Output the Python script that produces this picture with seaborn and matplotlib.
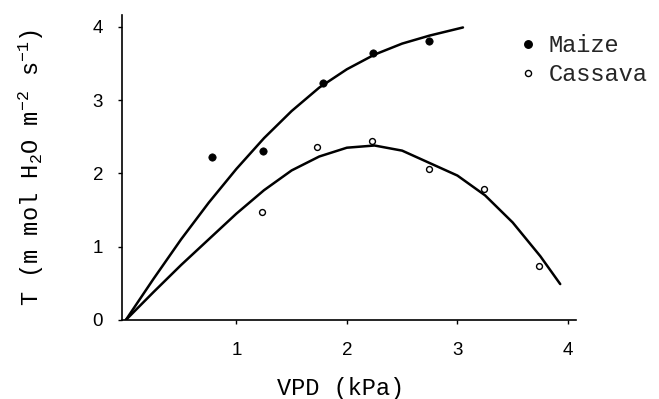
import matplotlib
matplotlib.use("Agg")
import matplotlib.pyplot as plt
import matplotlib.transforms as mtransforms
import seaborn as sns
import pandas as pd
from matplotlib.lines import Line2D

# ---- data ----
maize_vpd = [0.78, 1.24, 1.78, 2.24, 2.74]
maize_t = [2.22, 2.31, 3.23, 3.64, 3.81]
cassava_vpd = [1.23, 1.73, 2.23, 2.74, 3.24, 3.74]
cassava_t = [1.47, 2.36, 2.44, 2.06, 1.78, 0.73]

# fitted curves
maize_curve_x = [0, 0.25, 0.5, 0.75, 1.0, 1.25, 1.5, 1.75, 2.0, 2.25, 2.5, 2.75, 3.05]
maize_curve_y = [0, 0.56, 1.10, 1.60, 2.06, 2.48, 2.85, 3.17, 3.42, 3.62, 3.77, 3.88, 3.99]
cassava_curve_x = [0, 0.25, 0.5, 0.75, 1.0, 1.25, 1.5, 1.75, 2.0, 2.25, 2.5, 2.75, 3.0,
                   3.25, 3.5, 3.75, 3.93]
cassava_curve_y = [0, 0.38, 0.75, 1.10, 1.45, 1.77, 2.04, 2.23, 2.35, 2.38, 2.31, 2.14,
                   1.97, 1.70, 1.33, 0.87, 0.49]

x_ticks = [1, 2, 3, 4]
y_ticks = [0, 1, 2, 3, 4]
series_labels = ["Maize", "Cassava"]
x_label = "VPD (kPa)"
y_label = r"T (m mol H$_2$O m$^{-2}$ s$^{-1}$)"

sns.set_theme(style="ticks")
plt.rcParams["font.family"] = ["Liberation Sans", "DejaVu Sans"]
plt.rcParams["mathtext.fontset"] = "custom"
plt.rcParams["mathtext.rm"] = "Liberation Mono"
plt.rcParams["mathtext.it"] = "Liberation Mono"
plt.rcParams["mathtext.bf"] = "Liberation Mono"
plt.rcParams["mathtext.default"] = "rm"

fig = plt.figure(figsize=(6.59, 3.99), dpi=100)
ax = fig.add_axes([122.5 / 659, 1 - 320 / 399, 453.2 / 659, 305 / 399])

df_m = pd.DataFrame({"x": maize_curve_x, "y": maize_curve_y})
df_c = pd.DataFrame({"x": cassava_curve_x, "y": cassava_curve_y})
sns.lineplot(data=df_m, x="x", y="y", ax=ax, color="black", lw=1.8,
             sort=False, estimator=None, legend=False)
sns.lineplot(data=df_c, x="x", y="y", ax=ax, color="black", lw=1.8,
             sort=False, estimator=None, legend=False)

sns.scatterplot(x=maize_vpd, y=maize_t, ax=ax, color="black", s=28,
                edgecolor="black", linewidth=0.5, zorder=5)
sns.scatterplot(x=cassava_vpd, y=cassava_t, ax=ax, facecolor="white", s=18,
                edgecolor="black", linewidth=1.0, zorder=5)

ax.set_xlim(-0.03, 4.07)
ax.set_ylim(0, 4.16)
ax.set_xticks(x_ticks)
ax.set_yticks(y_ticks)
ax.set_xticklabels([str(v) for v in x_ticks])
ax.set_yticklabels([str(v) for v in y_ticks])
ax.tick_params(axis="both", direction="out", length=3, width=1, labelsize=13.5,
               colors="black")
ax.tick_params(axis="x", pad=13)
ax.tick_params(axis="y", pad=11)
for side in ["top", "right"]:
    ax.spines[side].set_visible(False)
for side in ["left", "bottom"]:
    ax.spines[side].set_linewidth(1.2)
    ax.spines[side].set_color("black")

ax.set_xlabel(x_label, fontsize=17, family="Liberation Mono", color="black")
ax.set_ylabel(y_label, fontsize=17, family="Liberation Mono", color="black")
ax.xaxis.set_label_coords(341 / 659, 1 - 377 / 399, transform=fig.transFigure)
ax.yaxis.set_label_coords(
    46 / 659, 0.5,
    transform=mtransforms.blended_transform_factory(fig.transFigure, ax.transAxes))

handles = [
    Line2D([], [], marker="o", ls="none", color="black", markersize=5.4,
           markerfacecolor="black"),
    Line2D([], [], marker="o", ls="none", color="black", markersize=4.4,
           markerfacecolor="white", markeredgewidth=1.0),
]
leg = ax.legend(handles, series_labels, loc="upper left",
                bbox_to_anchor=(522 / 659, 1 - 34 / 399),
                bbox_transform=fig.transFigure, frameon=False,
                handlelength=0.5, handletextpad=0.62, borderpad=0,
                borderaxespad=0, labelspacing=0.25,
                prop={"family": "Liberation Mono", "size": 17})

fig.savefig("out.png", dpi=100, facecolor="white")
